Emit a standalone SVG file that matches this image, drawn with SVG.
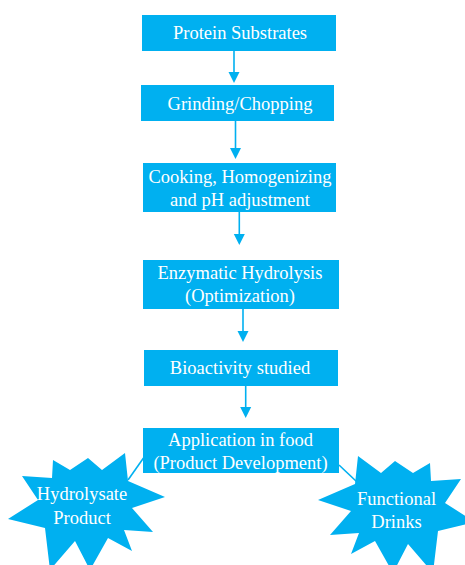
<svg xmlns="http://www.w3.org/2000/svg" width="465" height="565" viewBox="0 0 465 565">
<defs>
<style>
.box{fill:#00B0F0;}
.star{fill:#00B0F0;}
.t{font-family:"Liberation Serif","Times New Roman",serif;font-size:18.5px;fill:#FFFFFF;text-anchor:middle;}
.c{stroke:#00B0F0;stroke-width:1.6;fill:none;}
.ah{fill:#00B0F0;}
</style>
<path id="starShape" d="M125,453 L128,481 L165,497 L132,508 L153,532 L124,530 L132,551 L108,538 L90,570 L75,541 L50,570 L45,528 L8,519 L38,500 L22,476 L52,478 L53,460 L70,470 L88,458 L102,470 Z"/>
</defs>
<rect width="465" height="565" fill="#FFFFFF"/>
<g id="connectors">
<line class="c" x1="234" y1="51" x2="234" y2="73"/>
<polygon class="ah" points="228.5,72 239.5,72 234,83"/>
<line class="c" x1="235.5" y1="121" x2="235.5" y2="149"/>
<polygon class="ah" points="230,148 241,148 235.5,159"/>
<line class="c" x1="239.3" y1="212" x2="239.3" y2="235"/>
<polygon class="ah" points="233.8,234 244.8,234 239.3,245"/>
<line class="c" x1="243" y1="309" x2="243" y2="332"/>
<polygon class="ah" points="237.5,331 248.5,331 243,342"/>
<line class="c" x1="245.7" y1="386" x2="245.7" y2="408"/>
<polygon class="ah" points="240.2,407 251.2,407 245.7,418"/>
<line class="c" x1="143.5" y1="458" x2="128" y2="480"/>
<line class="c" x1="339" y1="465" x2="357" y2="482"/>
</g>
<g id="n1"><rect class="box" x="142" y="15" width="194" height="36"/><text class="t" x="240" y="38.5">Protein Substrates</text></g>
<g id="n2"><rect class="box" x="141" y="85" width="193" height="36"/><text class="t" x="240" y="110">Grinding/Chopping</text></g>
<g id="n3"><rect class="box" x="143" y="163" width="193" height="49"/><text class="t" x="240" y="182.5">Cooking, Homogenizing</text><text class="t" x="240" y="205.5">and pH adjustment</text></g>
<g id="n4"><rect class="box" x="143" y="260" width="196" height="49"/><text class="t" x="240" y="278.5">Enzymatic Hydrolysis</text><text class="t" x="240" y="301.5">(Optimization)</text></g>
<g id="n5"><rect class="box" x="144" y="350" width="194" height="36"/><text class="t" x="240" y="373.5">Bioactivity studied</text></g>
<g id="n6"><rect class="box" x="143" y="428" width="196" height="45"/><text class="t" x="240.5" y="445.5">Application in food</text><text class="t" x="240.5" y="468.5">(Product Development)</text></g>
<g id="n7"><use href="#starShape" class="star"/><text class="t" x="82" y="500">Hydrolysate</text><text class="t" x="82" y="523.5">Product</text></g>
<g id="n8"><use href="#starShape" class="star" transform="translate(483,3) scale(-1,1)"/><text class="t" x="396.5" y="504.5">Functional</text><text class="t" x="396.5" y="528">Drinks</text></g>
</svg>
